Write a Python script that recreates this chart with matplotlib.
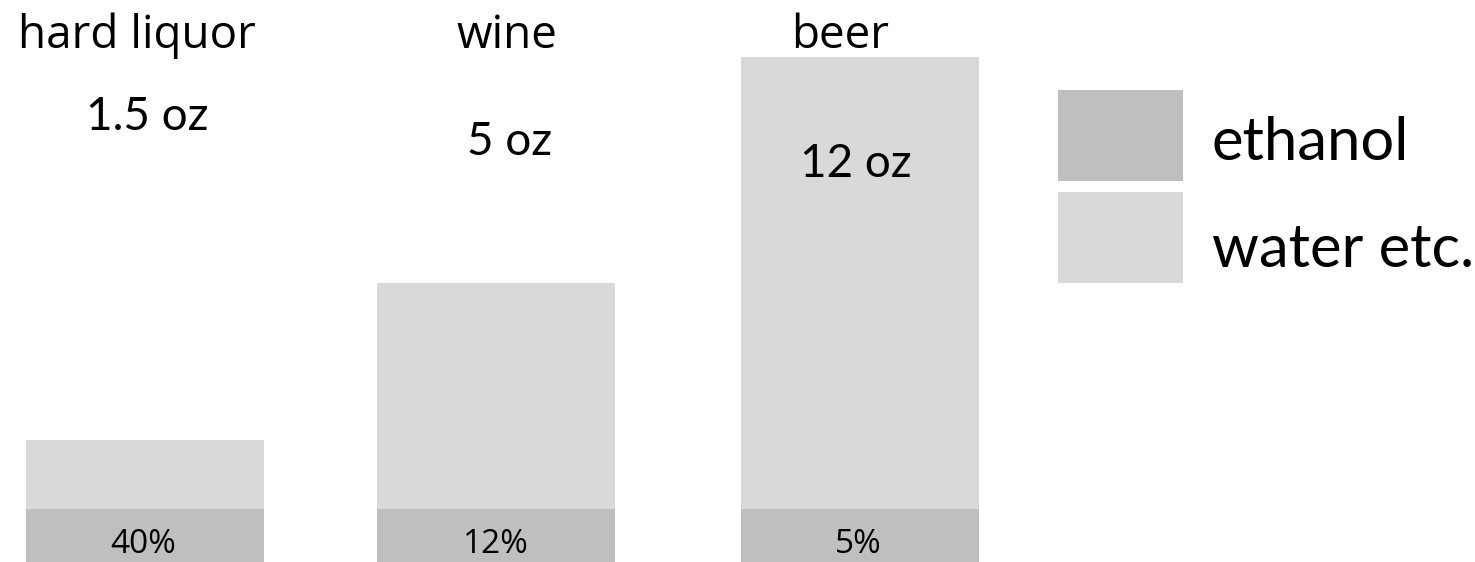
import matplotlib
matplotlib.use("Agg")
import matplotlib.pyplot as plt
from matplotlib.patches import Rectangle

# Drinks and their standard serving sizes
drinks = ["hard liquor", "wine", "beer"]
serving_labels = ["1.5 oz", "5 oz", "12 oz"]
abv_labels = ["40%", "12%", "5%"]

# Schematic bar heights (display units): equal ethanol part, water on top
ethanol_height = [53, 53, 53]
water_height = [69, 226, 452]

ETHANOL = "#bfbfbf"
WATER = "#d9d9d9"

W, H = 1475, 562
fig = plt.figure(figsize=(W / 100, H / 100), dpi=100)
ax = fig.add_axes([0, 0, 1, 1])
ax.set_xlim(0, W)
ax.set_ylim(0, H)
ax.axis("off")

# layout
bar_x = [144.5, 496, 859.5]
bar_w = 238
name_x = [137, 507, 840]
serving_x = [147, 510, 856]
serving_y = [432, 407, 385]
pct_x = [143, 496, 858]

ax.bar(bar_x, ethanol_height, width=bar_w, color=ETHANOL, linewidth=0)
ax.bar(bar_x, water_height, bottom=ethanol_height, width=bar_w, color=WATER, linewidth=0)

for i, name in enumerate(drinks):
    ax.text(name_x[i], H - 48, name, ha="center", va="baseline",
            fontsize=33, family="Open Sans", color="black")
    ax.text(serving_x[i], serving_y[i], serving_labels[i], ha="center", va="baseline",
            fontsize=33, family="Lato", color="black")
    ax.text(pct_x[i], H - 553, abv_labels[i], ha="center", va="baseline",
            fontsize=24, family="Open Sans", color="black")

# legend swatches
ax.add_patch(Rectangle((1058, H - 181), 125, 91, color=ETHANOL, linewidth=0))
ax.add_patch(Rectangle((1058, H - 283), 125, 91, color=WATER, linewidth=0))
ax.text(1212, H - 160, "ethanol", ha="left", va="baseline", fontsize=43,
        family="Lato", color="black")
ax.text(1212, H - 267, "water etc.", ha="left", va="baseline", fontsize=43,
        family="Lato", color="black")

fig.savefig("out.png", dpi=100, facecolor="white")
